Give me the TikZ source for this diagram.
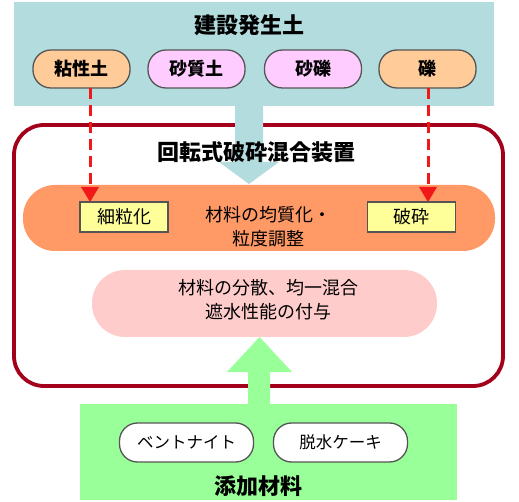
\documentclass[tikz,border=0pt]{standalone}
\usepackage{fontspec}
\setmainfont{Noto Sans CJK JP}
\usetikzlibrary{arrows.meta}
\definecolor{srcblue}{HTML}{B2DCDE}
\definecolor{boxred}{HTML}{A3001C}
\definecolor{dashred}{HTML}{F01818}
\definecolor{clayor}{HTML}{FFCC99}
\definecolor{sandpk}{HTML}{FFCCFF}
\definecolor{procor}{HTML}{FF9966}
\definecolor{yelbox}{HTML}{FFFF99}
\definecolor{mixpk}{HTML}{FFCCCC}
\definecolor{addgr}{HTML}{99FF99}
\definecolor{edgegr}{HTML}{555555}
\begin{document}
\begin{tikzpicture}[x=1pt,y=-1pt,
  pillbox/.style={draw=edgegr,line width=1.3pt,rounded corners=18pt,minimum width=97pt,minimum height=38pt,inner sep=0pt,font=\fontsize{18}{18}\selectfont\bfseries},
  whitepill/.style={pillbox,fill=white,minimum width=134pt,minimum height=39pt,font=\fontsize{16.5}{16.5}\selectfont},
  ylw/.style={draw=edgegr,line width=1.3pt,fill=yelbox,minimum width=88pt,minimum height=30pt,inner sep=0pt,font=\fontsize{18}{18}\selectfont},
  bigtitle/.style={font=\fontsize{22}{22}\selectfont\bfseries,inner sep=0pt},
  bodytext/.style={font=\fontsize{18}{24}\selectfont,align=center,inner sep=0pt},
  dashline/.style={draw=dashred,line width=3pt,dash pattern=on 11pt off 6pt},
  redtip/.style={fill=dashred}
]
\useasboundingbox (0,0) rectangle (519,502);
% source block
\node[fill=srcblue,minimum width=480pt,minimum height=104pt,inner sep=0pt] (src) at (254,54) {};
\node[bigtitle] (srct) at (249,25) {建設発生土};
% red device box
\node[draw=boxred,line width=3.8pt,rounded corners=30pt,minimum width=489pt,minimum height=261pt,inner sep=0pt] (dev) at (258.5,255.5) {};
% blue arrow
\fill[srcblue] (235,100) -- (263,100) -- (263,162) -- (279,162) -- (249,184) -- (219,162) -- (235,162) -- cycle;
\node[bigtitle] (devt) at (256,152) {回転式破砕混合装置};
% pills
\node[pillbox,fill=clayor] (p1) at (81.5,69) {粘性土};
\node[pillbox,fill=sandpk] (p2) at (196.5,69) {砂質土};
\node[pillbox,fill=sandpk] (p3) at (313,69) {砂礫};
\node[pillbox,fill=clayor] (p4) at (427.5,69) {礫};
% orange process pill
\node[fill=procor,rounded corners=32pt,minimum width=472pt,minimum height=66pt,inner sep=0pt] (proc) at (259,218) {};
\node[bodytext] (proct) at (268,227) {材料の均質化・\\粒度調整};
\node[ylw] (y1) at (124,217) {細粒化};
\node[ylw] (y2) at (411.5,217) {破砕};
% dashed red arrows
\coordinate (d1s) at (90,88);
\coordinate (d1m) at (90,187);
\coordinate (d1e) at (90,202);
\coordinate (d2s) at (428,88);
\coordinate (d2m) at (428,187);
\coordinate (d2e) at (428,202);
\draw[dashline] (d1s) -- (d1m);
\draw[dashline] (d2s) -- (d2m);
\fill[redtip] (d1e) -- ([xshift=-9pt]d1m) -- ([xshift=9pt]d1m) -- cycle;
\fill[redtip] (d2e) -- ([xshift=-9pt]d2m) -- ([xshift=9pt]d2m) -- cycle;
% pink mix pill
\node[fill=mixpk,rounded corners=33pt,minimum width=345pt,minimum height=67pt,inner sep=0pt] (mix) at (264.5,303.5) {};
\node[bodytext] (mixt) at (268,300) {材料の分散、均一混合\\遮水性能の付与};
% green additive block
\node[fill=addgr,minimum width=377pt,minimum height=96pt,inner sep=0pt] (add) at (268.5,452) {};
\fill[addgr] (248,410) -- (248,372) -- (227,372) -- (259.5,337) -- (292,372) -- (270,372) -- (270,410) -- cycle;
\node[whitepill] (w1) at (186.5,442.5) {ベントナイト};
\node[whitepill] (w2) at (340.5,442.5) {脱水ケーキ};
\node[bigtitle] (addt) at (258,486) {添加材料};
\end{tikzpicture}
\end{document}
